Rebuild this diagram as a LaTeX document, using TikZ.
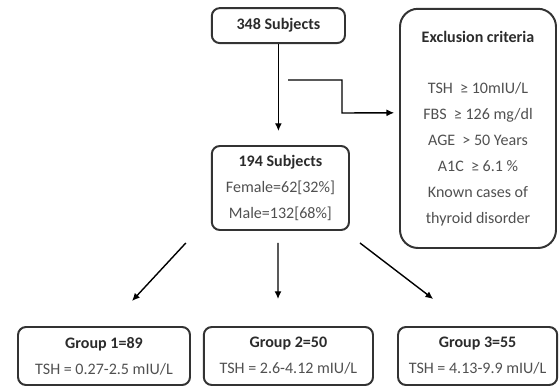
\documentclass[tikz,border=0pt]{standalone}
\usepackage{fontspec}
\setmainfont{Carlito}
\usepackage{tikz}
\usetikzlibrary{arrows.meta}

\definecolor{boxline}{HTML}{333333}
\definecolor{bodytext}{HTML}{505050}
\definecolor{headtext}{HTML}{2B2B2B}

\begin{document}
\begin{tikzpicture}[>={Latex[length=5.5pt,width=5pt]}, line width=1pt,
    bnode/.style={draw=boxline, line width=1.4pt, rounded corners=0.2cm, align=center, inner sep=0pt,
      text=bodytext, font=\fontsize{11.4}{18.4}\selectfont},
    xnode/.style={bnode, rounded corners=0.45cm}]
    \useasboundingbox (0,0) rectangle (13.975,9.7);

    \node[bnode, minimum width=3.33cm, minimum height=0.875cm] (s348) at (6.96,9.06) {\textbf{\color{headtext}348 Subjects}};
    \node[xnode, minimum width=3.9cm, minimum height=5.98cm] (excl) at (11.95,6.49)
      {\textbf{\color{headtext}Exclusion criteria}\\[18.4pt] TSH\ \ ≥ 10mIU/L\\ FBS\ \ ≥ 126 mg/dl\\ AGE\ \ > 50 Years\\ A1C\ \ ≥ 6.1 \%\\ Known cases of\\ thyroid disorder};
    \node[bnode, minimum width=3.43cm, minimum height=2.1cm] (s194) at (7.01,5.0)
      {\textbf{\color{headtext}194 Subjects}\\ Female=62[32\%]\\ Male=132[68\%]};
    \node[bnode, minimum width=4.3cm, minimum height=1.45cm] (g1) at (2.6,0.8)
      {\textbf{\color{headtext}Group 1=89}\\ TSH = 0.27-2.5 mIU/L};
    \node[bnode, minimum width=4.23cm, minimum height=1.45cm] (g2) at (7.21,0.8)
      {\textbf{\color{headtext}Group 2=50}\\ TSH = 2.6-4.12 mIU/L};
    \node[bnode, minimum width=3.98cm, minimum height=1.45cm] (g3) at (11.94,0.8)
      {\textbf{\color{headtext}Group 3=55}\\ TSH = 4.13-9.9 mIU/L};

    \coordinate (split) at (7.2,7.7);
    \coordinate (bend) at (8.55,6.875);

    \draw[->, shorten >=0.35cm] (s348) -- (s348 |- s194.north);
    \draw[->, shorten >=0.12cm] (split) -| (bend) -- ([yshift=0.39cm]excl.west);

    \draw[->] ([shift={(-0.625,-0.3)}]s194.south west) -- ([shift={(0.7,0.625)}]g1.north);
    \draw[->] ([shift={(-0.06,-0.3)}]s194.south) -- ([shift={(-0.26,0.675)}]g2.north);
    \draw[->] ([shift={(0.25,-0.3)}]s194.south east) -- ([shift={(-1.11,0.675)}]g3.north);
\end{tikzpicture}
\end{document}
